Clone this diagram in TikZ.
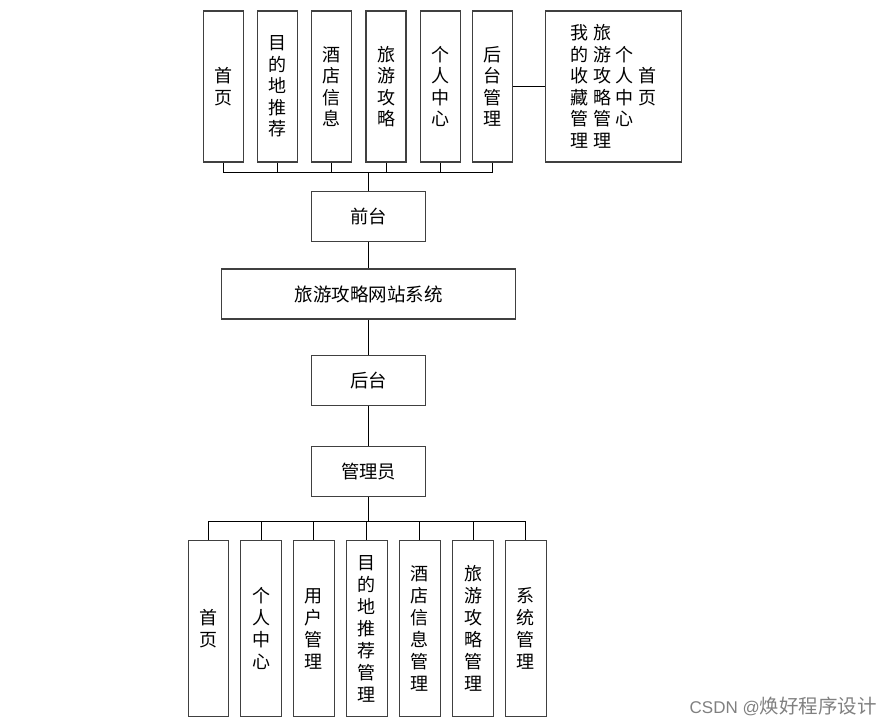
\documentclass[tikz,border=0pt]{standalone}
\usepackage{fontspec}
\setmainfont{Noto Sans CJK SC}
\newfontfamily\cjk{Noto Sans CJK SC}
\newfontfamily\latinwm{Liberation Sans}
\begin{document}
\begin{tikzpicture}[x=1pt,y=-1pt,
  box/.style={draw=black!75,line width=1.1pt,fill=white,inner sep=0pt,align=center,
    font=\cjk\fontsize{18}{21.5}\selectfont},
  vbox/.style={box,minimum width=40pt,minimum height=151pt},
  bbox/.style={box,minimum width=40.5pt,minimum height=176pt,font=\cjk\fontsize{18}{22}\selectfont},
  hbox/.style={box,minimum width=113.6pt,minimum height=50pt,font=\cjk\fontsize{18.3}{21}\selectfont},
  link/.style={draw=black,line width=1pt}]
\useasboundingbox (0,0) rectangle (891,726);
% top row
\node[vbox] (t1) at (223.3,86.5) {首\\页};
\node[vbox] (t2) at (277.3,86.5) {目\\的\\地\\推\\荐};
\node[vbox] (t3) at (331.7,86.5) {酒\\店\\信\\息};
\node[vbox] (t4) at (386.0,86.5) {旅\\游\\攻\\略};
\node[vbox] (t5) at (440.3,86.5) {个\\人\\中\\心};
\node[vbox] (t6) at (492.3,86.5) {后\\台\\管\\理};
\node[box,minimum width=136pt,minimum height=151pt] (big) at (613.7,86.5)
  {\parbox[c]{19pt}{\centering 我\\的\\收\\藏\\管\\理}\hspace{3.5pt}%
   \parbox[c]{19pt}{\centering 旅\\游\\攻\\略\\管\\理}\hspace{3.5pt}%
   \parbox[c]{19pt}{\centering 个\\人\\中\\心}\hspace{3.5pt}%
   \parbox[c]{19pt}{\centering 首\\页}};
% middle
\node[hbox] (front) at (368.5,216.7) {前台};
\node[box,minimum width=293.6pt,minimum height=50pt,font=\cjk\fontsize{18.5}{21}\selectfont] (sys) at (368.5,294) {旅游攻略网站系统};
\node[hbox] (back) at (368.5,380.7) {后台};
\node[hbox] (admin) at (368.5,471.2) {管理员};
% bottom row
\node[bbox] (b1) at (208.3,628.7) {首\\页};
\node[bbox] (b2) at (261.0,628.7) {个\\人\\中\\心};
\node[bbox] (b3) at (313.8,628.7) {用\\户\\管\\理};
\node[bbox] (b4) at (366.8,628.7) {目\\的\\地\\推\\荐\\管\\理};
\node[bbox] (b5) at (419.8,628.7) {酒\\店\\信\\息\\管\\理};
\node[bbox] (b6) at (473.0,628.7) {旅\\游\\攻\\略\\管\\理};
\node[bbox] (b7) at (525.8,628.7) {系\\统\\管\\理};
% connectors
\coordinate (tb) at (368.5,172.3);
\foreach \n in {t1,t2,t3,t4,t5,t6} \draw[link] (\n.south) |- (tb);
\draw[link] (tb) -- (front.north);
\draw[link] (t6.east) -- (big.west);
\draw[link] (front.south) -- (sys.north);
\draw[link] (sys.south) -- (back.north);
\draw[link] (back.south) -- (admin.north);
\coordinate (bb) at (368.5,521);
\draw[link] (admin.south) -- (bb);
\foreach \n in {b1,b2,b3,b4,b5,b6,b7} \draw[link] (bb) -| (\n.north);
% watermark
\node[anchor=east,text=black!50,inner sep=0pt] (wm) at (877,706)
  {{\latinwm\fontsize{17}{19}\selectfont CSDN @}{\cjk\fontsize{19.5}{21}\selectfont 焕好程序设计}};
\end{tikzpicture}
\end{document}
